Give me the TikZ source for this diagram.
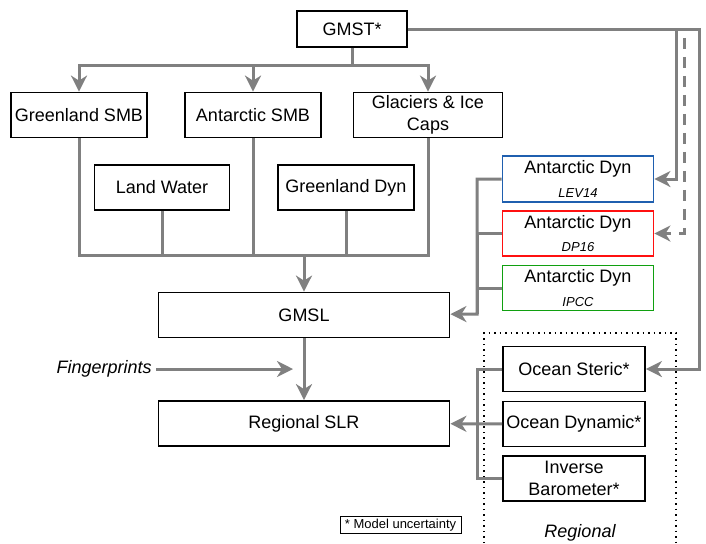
\documentclass[tikz,border=0pt]{standalone}
\usepackage{fontspec}
\setmainfont{Liberation Sans}
\usetikzlibrary{arrows.meta}
\definecolor{lien}{HTML}{808080}
\definecolor{bleu}{HTML}{1F5FAF}
\definecolor{rouge}{HTML}{FF1010}
\definecolor{vert}{HTML}{10A010}
\begin{document}
\begin{tikzpicture}[x=0.5pt,y=-0.5pt,
    box/.style={draw,line width=0.9pt,minimum width=#1,minimum height=22.5pt,
      inner sep=1pt,align=center,font=\fontsize{9}{10.8}\selectfont},
    box/.default=68pt,
    link/.style={draw=lien,line width=1.5pt},
    flow/.style={link,-{Stealth[length=8pt,width=8pt,inset=2.5pt]}}]

  \useasboundingbox (0,0) rectangle (706,543);

  %sources
  \node[box=55pt,minimum height=18pt] (gmst) at (352,29) {GMST*};
  \node[box] (grsmb) at (79,115) {Greenland SMB};
  \node[box] (ansmb) at (253,115) {Antarctic SMB};
  \node[box=74.5pt] (glac) at (428,115) {Glaciers \& Ice\\Caps};
  \node[box=67.5pt] (landw) at (162,187.5) {Land Water};
  \node[box] (grdyn) at (346,187.5) {Greenland Dyn};

  %antarctique
  \node[box=75.5pt,minimum height=23pt,draw=bleu] (lev) at (578,179)
    {Antarctic Dyn\\[1pt]{\fontsize{6.5}{8}\selectfont\itshape LEV14}};
  \node[box=75.5pt,draw=rouge] (dp) at (578,233.5)
    {Antarctic Dyn\\[1pt]{\fontsize{6.5}{8}\selectfont\itshape DP16}};
  \node[box=75.5pt,draw=vert] (ipcc) at (578,288)
    {Antarctic Dyn\\[1pt]{\fontsize{6.5}{8}\selectfont\itshape IPCC}};

  %niveau de la mer
  \node[box=145.5pt] (gmsl) at (304,315) {GMSL};
  \node[box=145.5pt] (rslr) at (304,423.5) {Regional SLR};

  %regional
  \node[box=71pt] (steric) at (574,369) {Ocean Steric*};
  \node[box=71pt] (odyn) at (574,424) {Ocean Dynamic*};
  \node[box=71pt] (ib) at (574,478.5) {Inverse\\Barometer*};
  \draw[dotted,line width=0.75pt] (484,543) -- (484,333) -- (676,333) -- (676,543);
  \node[font=\fontsize{9}{10.8}\selectfont\itshape] (reg) at (580,533) {Regional};

  %texte
  \node[anchor=east,inner sep=2pt,font=\fontsize{9}{10.8}\selectfont\itshape] (fp) at (156,369) {Fingerprints};
  \node[draw,line width=0.5pt,inner sep=1pt,minimum width=60.5pt,minimum height=6pt,
    font=\fontsize{6.5}{8}\selectfont] (mu) at (400.5,525) {* Model uncertainty};

  %fleches du haut
  \coordinate (haut) at (352,65);
  \draw[flow] (gmst) -- (haut) -| (grsmb);
  \draw[flow] (haut) -| (ansmb);
  \draw[flow] (haut) -| (glac);

  %collecteur
  \coordinate (bas) at (304,255);
  \foreach \n in {grsmb,landw,ansmb,grdyn,glac}
    \draw[link] (\n) |- (bas);
  \draw[flow] (bas) -- (gmsl);

  %a droite
  \coordinate (coin) at (699,369);
  \coordinate (clev) at (676,179);
  \coordinate (cdp) at (684,233.5);
  \draw[flow] (gmst) -| (coin) -- (steric);
  \draw[flow] (gmst) -| (clev) -- (lev);
  \draw[flow,dash pattern=on 5.5pt off 4pt] (gmst) -| (cdp) -- (dp);

  %antarctique vers gmsl
  \coordinate (cant) at (477,314);
  \draw[link] (dp) -| (cant);
  \draw[link] (ipcc) -| (cant);
  \draw[flow] (lev) -| (cant) -- (gmsl);

  %ocean vers regional
  \coordinate (coc) at (477,424);
  \draw[link] (steric) -| (coc);
  \draw[link] (ib) -| (coc);
  \draw[flow] (odyn) -- (rslr);

  %gmsl et fingerprints
  \coordinate (fpbout) at (293,369);
  \draw[flow] (fp) -- (fpbout);
  \draw[flow] (gmsl) -- (rslr);
\end{tikzpicture}
\end{document}
